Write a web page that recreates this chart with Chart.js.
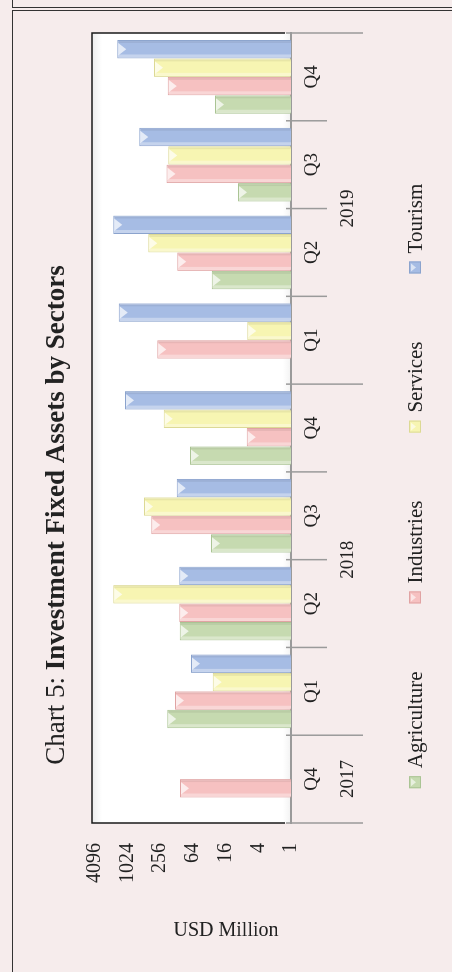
<!DOCTYPE html>
<html>
<head>
<meta charset="utf-8">
<script src="https://cdn.jsdelivr.net/npm/chart.js@4.4.1/dist/chart.umd.min.js"></script>
<style>
  html, body { margin: 0; padding: 0; width: 452px; height: 972px; overflow: hidden; background: #f6ecec; }
  .frame { position: absolute; border: 1.5px solid #333; box-sizing: border-box; }
  #topbox { left: 12px; top: -30px; width: 480px; height: 38px; }
  #mainbox { left: 12px; top: 10px; width: 480px; height: 1000px; }
  #wrap { position: absolute; left: 0; top: 0; width: 972px; height: 452px;
          transform-origin: 0 0; transform: translateY(972px) rotate(-90deg); }
</style>
</head>
<body>
<div class="frame" id="topbox"></div>
<div class="frame" id="mainbox"></div>
<div id="wrap"><canvas id="chart" width="972" height="452"></canvas></div>
<script>
const quarters = ['Q4', 'Q1', 'Q2', 'Q3', 'Q4', 'Q1', 'Q2', 'Q3', 'Q4'];
const years = ['2017', '2018', '2018', '2018', '2018', '2019', '2019', '2019', '2019'];

const agriculture = [null, 190, 112, 29.7, 72.5, null, 28.8, 9.5, 25];
const industries = [110, 137, 114, 373, 6.5, 290, 124, 195, 186];
const services = [null, 27.6, 1870, 509, 221, 6.4, 424, 182, 333];
const tourism = [null, 69.5, 114, 127, 1137, 1488, 1870, 621, 1580];

const yTicks = [1, 4, 16, 64, 256, 1024, 4096];

const SERIF = "'Liberation Serif', 'Times New Roman', serif";
const INK = '#222';
const GRAY = '#9a9a9a';

// bar colours: fill, edge
const colors = {
  Agriculture: ['#c6dab0', '#aac494'],
  Industries: ['#f6c1c1', '#e0a3a3'],
  Services: ['#f7f5b2', '#dcd995'],
  Tourism: ['#a6bce4', '#8ba3cd']
};

function ds(label, data) {
  return {
    label: label,
    data: data,
    backgroundColor: colors[label][0],
    borderColor: colors[label][1],
    borderWidth: 1,
    borderSkipped: 'bottom'
  };
}

// everything Excel drew around the plot: frame, group lines, years, title, legend
const decor = {
  id: 'decor',
  beforeDraw(chart) {
    const { ctx, chartArea: a } = chart;
    ctx.save();
    const g = ctx.createLinearGradient(0, a.top, 0, a.bottom);
    g.addColorStop(0, '#ececec');
    g.addColorStop(0.05, '#ffffff');
    g.addColorStop(0.96, '#ffffff');
    g.addColorStop(1, '#f2f2f2');
    ctx.fillStyle = g;
    ctx.fillRect(a.left, a.top, a.right - a.left, a.bottom - a.top);
    ctx.restore();
  },
  afterDatasetsDraw(chart) {
    const ctx = chart.ctx;
    ctx.save();
    chart.data.datasets.forEach((d, di) => {
      chart.getDatasetMeta(di).data.forEach((el, i) => {
        if (d.data[i] == null) return;
        const p = el.getProps(['x', 'y', 'base', 'width'], true);
        const l = p.x - p.width / 2, r = p.x + p.width / 2;
        // light stripe on one side, dark edge on the other
        ctx.fillStyle = 'rgba(255,255,255,0.35)';
        ctx.fillRect(l + 1, p.y + 1, 3, p.base - p.y - 1);
        ctx.fillStyle = 'rgba(0,0,0,0.06)';
        ctx.fillRect(r - 3, p.y + 1, 2, p.base - p.y - 1);
        // bevel tip
        ctx.fillStyle = 'rgba(255,255,255,0.7)';
        ctx.beginPath();
        ctx.moveTo(l + 3, p.y + 1);
        ctx.lineTo(r - 3, p.y + 1);
        ctx.lineTo(p.x, p.y + 9);
        ctx.closePath();
        ctx.fill();
      });
    });
    ctx.restore();
  },
  afterDraw(chart) {
    const { ctx, chartArea: a } = chart;
    const xs = chart.scales.x;
    ctx.save();

    // plot frame
    ctx.strokeStyle = '#1a1a1a';
    ctx.lineWidth = 1.5;
    ctx.beginPath();
    ctx.moveTo(a.left, a.bottom - 6);
    ctx.lineTo(a.left, a.top);
    ctx.lineTo(a.right, a.top);
    ctx.lineTo(a.right, a.bottom - 6);
    ctx.stroke();

    // category separators, longer where the year changes
    ctx.strokeStyle = GRAY;
    ctx.lineWidth = 1.5;
    const n = quarters.length;
    for (let i = 0; i <= n; i++) {
      let px;
      if (i === 0) px = a.left;
      else if (i === n) px = a.right;
      else px = (xs.getPixelForTick(i - 1) + xs.getPixelForTick(i)) / 2;
      const yearEdge = i === 0 || i === n || years[i] !== years[i - 1];
      ctx.beginPath();
      ctx.moveTo(px, a.bottom - 5);
      ctx.lineTo(px, a.bottom + (yearEdge ? 72 : 36));
      ctx.stroke();
    }

    // year labels
    ctx.fillStyle = INK;
    ctx.font = '19px ' + SERIF;
    ctx.textAlign = 'center';
    ctx.textBaseline = 'middle';
    let start = 0;
    for (let i = 1; i <= n; i++) {
      if (i === n || years[i] !== years[start]) {
        const cx = (xs.getPixelForTick(start) + xs.getPixelForTick(i - 1)) / 2;
        ctx.fillText(years[start], cx, a.bottom + 57);
        start = i;
      }
    }

    // title, regular + bold
    const t1 = 'Chart 5: ', t2 = 'Investment Fixed Assets by Sectors';
    ctx.font = '27px ' + SERIF;
    const w1 = ctx.measureText(t1).width;
    ctx.font = 'bold 27px ' + SERIF;
    const w2 = ctx.measureText(t2).width;
    let tx = 457 - (w1 + w2) / 2;
    ctx.textAlign = 'left';
    ctx.font = '27px ' + SERIF;
    ctx.fillText(t1, tx, 57);
    ctx.font = 'bold 27px ' + SERIF;
    ctx.fillText(t2, tx + w1, 57);

    // legend
    ctx.font = '21px ' + SERIF;
    const box = 12, gap = 8, spacing = 68;
    const items = chart.data.datasets.map(d => ({ d, w: box + gap + ctx.measureText(d.label).width }));
    const total = items.reduce((s, it) => s + it.w, 0) + spacing * (items.length - 1);
    let lx = chart.width / 2 - total / 2;
    const ly = 415;
    items.forEach(it => {
      ctx.fillStyle = it.d.backgroundColor;
      ctx.fillRect(lx, ly - box / 2, box, box);
      ctx.strokeStyle = it.d.borderColor;
      ctx.lineWidth = 1;
      ctx.strokeRect(lx + 0.5, ly - box / 2 + 0.5, box - 1, box - 1);
      ctx.fillStyle = 'rgba(255,255,255,0.6)';
      ctx.beginPath();
      ctx.moveTo(lx + 2, ly - box / 2 + 2);
      ctx.lineTo(lx + box - 2, ly - box / 2 + 2);
      ctx.lineTo(lx + box / 2, ly + 1);
      ctx.closePath();
      ctx.fill();
      ctx.fillStyle = INK;
      ctx.fillText(it.d.label, lx + box + gap, ly + 1);
      lx += it.w + spacing;
    });

    // value axis title, reads upright once the page is turned
    ctx.save();
    ctx.translate(41, 226);
    ctx.rotate(Math.PI / 2);
    ctx.textAlign = 'center';
    ctx.font = '20px ' + SERIF;
    ctx.fillText('USD Million', 0, 0);
    ctx.restore();

    ctx.restore();
  }
};

new Chart(document.getElementById('chart'), {
  type: 'bar',
  data: {
    labels: quarters,
    datasets: [
      ds('Agriculture', agriculture),
      ds('Industries', industries),
      ds('Services', services),
      ds('Tourism', tourism)
    ]
  },
  options: {
    responsive: false,
    animation: false,
    events: [],
    layout: { padding: { top: 92, right: 33, bottom: 0, left: 0 } },
    datasets: { bar: { categoryPercentage: 0.84, barPercentage: 1.0 } },
    scales: {
      x: {
        offset: true,
        grid: { display: false, drawTicks: false },
        border: { display: true, color: GRAY, width: 2 },
        ticks: { color: INK, font: { family: SERIF, size: 19 }, padding: 10, maxRotation: 0, autoSkip: false },
        afterFit: s => { s.height = 161; }
      },
      y: {
        type: 'logarithmic',
        min: 1,
        max: 4600,
        grid: { display: false, drawTicks: false },
        border: { display: false },
        afterBuildTicks: s => { s.ticks = yTicks.map(v => ({ value: v })); },
        ticks: { color: INK, font: { family: SERIF, size: 20 }, padding: 20, callback: v => String(v) },
        afterFit: s => { s.width = 149; }
      }
    },
    plugins: {
      legend: { display: false },
      title: { display: false },
      tooltip: { enabled: false }
    }
  },
  plugins: [decor]
});
</script>
</body>
</html>
